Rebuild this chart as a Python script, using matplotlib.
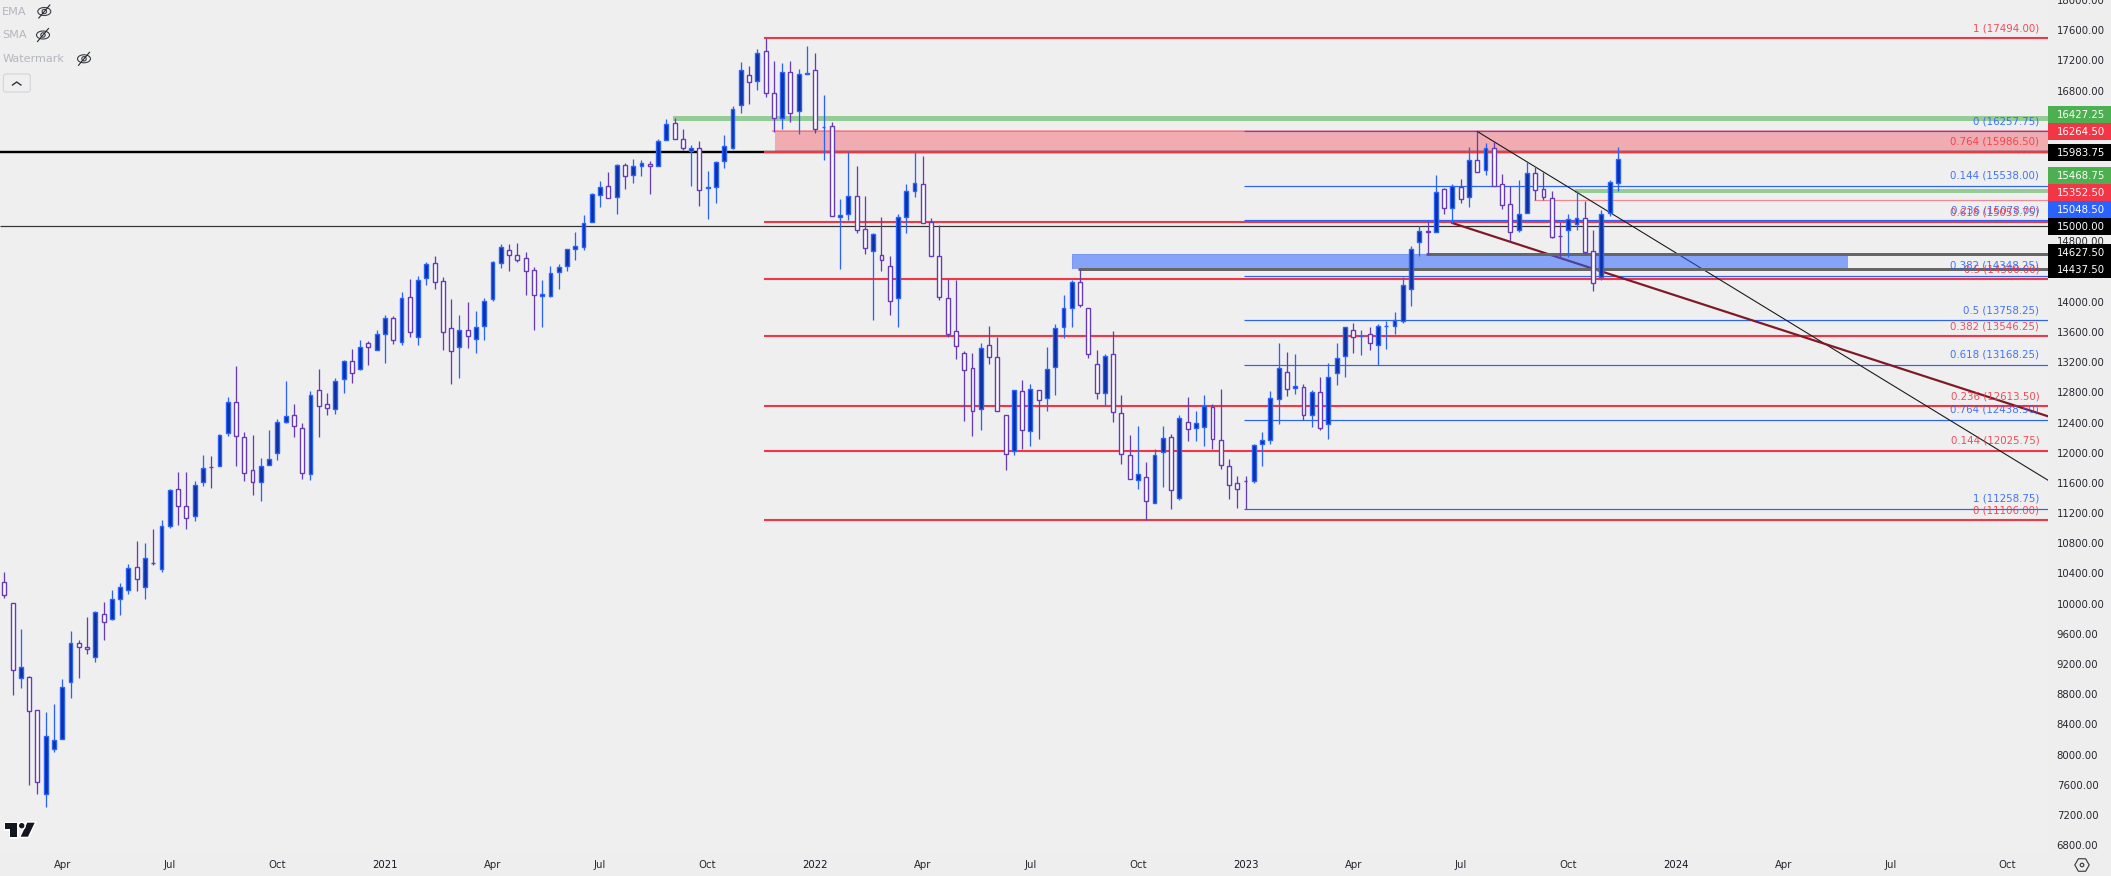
import matplotlib
matplotlib.use("Agg")
import matplotlib.pyplot as plt
from matplotlib.patches import Rectangle, Ellipse, Circle, Polygon, RegularPolygon, FancyBboxPatch
import matplotlib.patheffects as pe
import numpy as np

plt.rcParams['font.family'] = ['DejaVu Sans']

# ---------- candle data (weekly bars) ----------
highs = [10417,10015,9662,9039,8585,8563,8669,8995,9635,9516,
 9821,9909,10020,10178,10271,10523,10827,10801,10986,11106,
 11525,11741,11741,11622,11967,11953,12253,12735,13145,12271,
 12231,11927,12298,12443,12947,12642,12390,12814,13106,12788,
 12995,13234,13371,13490,13477,13622,13821,13808,14125,14298,
 14337,14523,14602,14324,14033,13821,13993,13874,14046,14545,
 14761,14761,14774,14655,14457,14284,14470,14496,14704,14920,
 15145,15446,15596,15715,15830,15843,15887,15874,15861,16161,
 16417,16430,16284,16072,16125,15728,15869,16205,16589,17172,
 17119,17357,17494,17185,17159,17185,17079,17384,17291,16735,
 16377,15357,15980,15794,15397,14916,15119,14602,15167,15565,
 15989,15927,15106,15022,14306,14284,13353,13318,13450,13675,
 13529,12505,12836,12960,12907,12836,13397,13702,14086,14284,
 14439,13922,13357,13313,13609,12761,12231,12351,11874,12046,
 12351,12245,12496,12735,12549,12761,12642,12841,11913,11688,
 11688,12121,12271,12814,13450,13331,13304,12916,12836,13000,
 13185,13450,13671,13715,13622,13662,13702,13741,13861,14324,
 14735,15000,15066,15675,15512,15565,15622,16046,16258,16099,
 16125,15688,15529,15609,15847,15785,15724,15463,15061,15159,
 15468,15331,14947,15220,15609,16046]
body_tops = [10293,10015,9154,9022,8585,8240,8187,8889,9472,9472,
 9432,9883,9869,10068,10227,10479,10492,10611,10545,11035,
 11512,11525,11300,11578,11803,11816,12240,12677,12677,12214,
 11777,11830,11922,12412,12492,12505,12333,12770,12836,12651,
 12956,13220,13220,13406,13459,13578,13790,13790,14055,14068,
 14293,14505,14518,14280,13657,13631,13631,13671,14015,14532,
 14730,14691,14624,14585,14426,14108,14386,14465,14704,14744,
 15048,15432,15525,15538,15816,15816,15803,15843,15830,16134,
 16359,16373,16161,16037,16042,15525,15856,16068,16558,17075,
 17008,17300,17326,16770,17048,17048,17022,17035,17075,16320,
 16333,15154,15406,15406,14969,14902,14624,14479,15128,15472,
 15578,15565,15061,14611,14055,13618,13326,13128,13393,13432,
 13273,12505,12836,12823,12850,12836,13114,13657,13922,14267,
 14267,13922,13181,13287,13313,12532,11975,11724,11684,11975,
 12201,12214,12465,12412,12399,12624,12611,12174,11830,11605,
 11631,12108,12174,12730,13128,13075,12889,12876,12810,12810,
 13009,13260,13671,13631,13552,13578,13684,13684,13763,14227,
 14704,14942,14933,15459,15499,15529,15525,15883,15883,16042,
 16042,15565,15300,15167,15710,15710,15499,15379,14872,15101,
 15114,15114,14677,15167,15591,15896]
body_bottoms = [10108,9114,9008,8571,7631,7472,8068,8201,8964,9432,
 9393,9287,9763,9803,10068,10187,10320,10214,10541,10465,
 11035,11300,11141,11168,11618,11812,11830,12267,12227,11737,
 11618,11618,11843,12002,12412,12359,11737,11724,12624,12598,
 12585,12982,13061,13114,13401,13366,13578,13499,13472,13604,
 13538,14320,14267,13604,13353,13406,13552,13512,13684,14042,
 14518,14624,14558,14412,14095,14081,14081,14399,14479,14704,
 14730,15061,15419,15379,15393,15671,15684,15803,15803,15803,
 16148,16161,16042,16002,15485,15512,15525,15869,16042,16611,
 16916,16929,16770,16439,16439,16505,16532,17022,16293,16315,
 15141,15128,15167,14955,14717,14677,14558,14015,14055,15128,
 15472,15048,14611,14068,13578,13419,13101,12558,12585,13273,
 12558,11989,12028,12306,12293,12704,12730,13141,13671,13922,
 13962,13313,12797,12797,12545,11989,11658,11644,11366,11340,
 12015,11512,11406,12320,12333,12346,12187,11843,11578,11525,
 11627,11631,12121,12174,12717,12850,12863,12505,12505,12333,
 12386,13061,13287,13538,13547,13459,13432,13680,13684,13750,
 14174,14797,14929,14929,15247,15247,15366,15393,15724,15750,
 15538,15287,14929,14955,15181,15485,15393,14863,14867,14955,
 15035,14664,14254,14333,15176,15578]
lows = [10077,8792,8880,7600,7481,7309,8037,8201,8752,9017,
 9331,9229,9521,9781,9847,10125,10165,10059,10514,10417,
 11000,11039,10986,11092,11556,11529,11830,12218,11821,11622,
 11437,11357,11843,11900,12390,12205,11649,11635,12209,12496,
 12510,12788,12920,13092,13159,13366,13185,13437,13423,13529,
 13423,14218,14165,13357,12907,12986,13384,13318,13490,14006,
 14443,14404,14523,14086,13622,13662,14059,14165,14404,14549,
 14682,15061,15251,15379,15159,15490,15569,15662,15423,15803,
 16148,16161,16006,15529,15265,15092,15304,15768,16019,16496,
 16616,16801,16708,16253,16284,16377,16218,17022,16231,15874,
 15141,14430,15079,14907,14629,13755,14408,13821,13662,14907,
 15384,15048,14611,14019,13534,13238,12417,12218,12298,13172,
 12558,11768,11967,12046,12086,12178,12549,12761,13516,13662,
 13927,13251,12708,12620,12404,11847,11658,11516,11115,11340,
 11547,11251,11370,12152,12152,12086,12046,11781,11384,11265,
 11260,11596,11821,12112,12377,12748,12774,12439,12337,12298,
 12178,12894,13000,13318,13291,13357,13167,13370,13569,13715,
 13940,14611,14624,14929,15159,15044,15304,15251,15724,15675,
 15538,15225,14801,14920,15181,15353,15353,14841,14593,14593,
 14947,14638,14143,14293,15132,15468]
directions = ("DDUDDUUUUD" "DUDUUUDUDU" "UDDUUDUUDD" "DUUUUDDUDD" "UUDUDUUDUD"
              "UUDDDUDUUU" "UDDDDUUUUU" "UUUDUDUUDU" "UDDUDUUUUU" "DUDDUDUUDU"
              "DUUDDUDDUU" "UDDDDDDDUD" "DDUDUDUUUU" "DDDUDDDUDU" "UDUDUUDDDD"
              "DUUUUDUDUD" "UUUDUDUUUU" "UUDUDUDUDU" "DDDUUDDDDU" "UDDUUU")
assert len(highs) == len(body_tops) == len(body_bottoms) == len(lows) == len(directions) == 196

# ---------- drawn levels ----------
red_fib_levels = [1, 0.764, 0.618, 0.5, 0.382, 0.236, 0.144, 0]
red_fib_prices = [17494.00, 15986.50, 15053.75, 14300.00, 13546.25, 12613.50, 12025.75, 11106.00]
blue_fib_levels = [0, 0.144, 0.236, 0.382, 0.5, 0.618, 0.764, 1]
blue_fib_prices = [16257.75, 15538.00, 15078.00, 14348.25, 13758.25, 13168.25, 12438.50, 11258.75]
black_thick_price = 15983.75
round_level = 15000.00
green_price_1, green_price_2 = 16427.25, 15468.75
red_zone = (15983.75, 16264.50)
pink_price = 15352.50
blue_zone = (14437.50, 14627.50)
trend_black_x, trend_black_y = [178, 246.97], [16258, 11636]
trend_maroon_x, trend_maroon_y = [175, 246.97], [15044, 12483]

x_tick_pos = [7,20,33,46,59,72,85,98,111,124,137,150,163,176,189,202,215,228,242]
x_tick_lab = ["Apr","Jul","Oct","2021","Apr","Jul","Oct","2022","Apr","Jul","Oct","2023",
              "Apr","Jul","Oct","2024","Apr","Jul","Oct"]
y_ticks = list(range(6800, 18001, 400))

tag_values = ["16427.25","16264.50","15983.75","15468.75","15352.50","15048.50","15000.00","14627.50","14437.50"]
tag_colors = ["#4CAF50","#F23645","#000000","#4CAF50","#F23645","#2962FF","#000000","#000000","#000000"]
tag_tops   = [106, 123, 144, 167, 184, 201, 218, 244, 261]

# ---------- palette ----------
BG = "#EFEFEF"; RED = "#F23645"; BLUE = "#2962FF"; GREEN = "#4CAF50"
UP_FILL = "#0D2F9C"; DOWN_EDGE = "#673AB7"; TXT = "#24272E"
W, H = 2111, 876
PW, PH = 2048, 850
px = 72 / 100.0  # one pixel in points

fig = plt.figure(figsize=(W/100, H/100), dpi=100, facecolor="#EEEEEE")
ax = fig.add_axes([0, (H-PH)/H, PW/W, PH/H], facecolor=BG)
ax.set_xlim((0-4.3)/8.275, (PW-4.3)/8.275)
ax.set_ylim(17494-13.245*(PH-37.7), 17494+13.245*37.7)
for s in ax.spines.values():
    s.set_visible(False)
xmax = ax.get_xlim()[1]; xmin = ax.get_xlim()[0]

# zones and levels behind the candles
ax.hlines(round_level, xmin, xmax, color="#333333", lw=1.2*px, zorder=1.5)
ax.hlines(black_thick_price, xmin, xmax, color="black", lw=2.4*px, zorder=1.6)
ax.fill_between([93.1, xmax], *red_zone, color=RED, alpha=0.36, lw=0, zorder=1.2)
ax.hlines(red_zone[1], 92.8, xmax, color=RED, alpha=0.42, lw=2*px, zorder=1.3)
ax.fill_between([80.8, xmax], green_price_1-30, green_price_1+30, color=GREEN, alpha=0.55, lw=0, zorder=1.2)
ax.fill_between([189.8, xmax], green_price_2-30, green_price_2+30, color=GREEN, alpha=0.55, lw=0, zorder=1.2)
ax.hlines(pink_price, 184.8, xmax, color=RED, alpha=0.55, lw=1.2*px, zorder=1.3)

ax.hlines(red_fib_prices, 91.8, xmax, color=RED, lw=2.1*px, zorder=2)
ax.hlines(blue_fib_prices, 149.85, xmax, color=BLUE, lw=1.2*px, zorder=2.1)
ax.plot(trend_black_x, trend_black_y, color="#1a1a1a", lw=1.1*px, zorder=2.2)
ax.plot(trend_maroon_x, trend_maroon_y, color="#7E1A26", lw=2.2*px, zorder=2.2)
# blue supply zone lies over the maroon trendline
ax.fill_between([129.0, 222.8], *blue_zone, color=BLUE, alpha=0.53, lw=0, zorder=2.3)
ax.hlines(blue_zone[1], 129.0, 171.8, color="#D8D8E4", lw=1.2*px, zorder=2.25)
ax.vlines(129.0, *blue_zone, color="#D8D8E4", lw=1.2*px, zorder=2.25)
ax.hlines(blue_zone[1], 171.8, xmax, color="#666666", lw=3*px, zorder=2.4)
ax.hlines(blue_zone[0], 129.7, xmax, color="#666666", lw=3*px, zorder=2.4)

# candles
idx = np.arange(len(highs))
h, t, b, l = map(np.array, (highs, body_tops, body_bottoms, lows))
up = np.array([d == "U" for d in directions])
ax.vlines(idx[up], l[up], h[up], color=BLUE, lw=1.3*px, zorder=3)
ax.vlines(idx[~up], l[~up], h[~up], color=DOWN_EDGE, lw=1.3*px, zorder=3)
ax.bar(idx[up], (t-b)[up], bottom=b[up], width=0.47, color=UP_FILL, edgecolor=BLUE, linewidth=1.4*px, zorder=3.1)
ax.bar(idx[~up], (t-b)[~up], bottom=b[~up], width=0.47, color="white", edgecolor=DOWN_EDGE, linewidth=1.4*px, zorder=3.1)

# fib labels
def fib_label(lev, price, col):
    ax.annotate(f"{lev:g} ({price:.2f})", xy=(1, price), xycoords=("axes fraction", "data"),
                xytext=(-8.7*px, 10*px), textcoords="offset points", ha="right", va="center",
                color=col, alpha=0.88, fontsize=7.35, zorder=4, annotation_clip=False)
for lev, p in zip(blue_fib_levels, blue_fib_prices):
    fib_label(lev, p, BLUE)
for lev, p in zip(red_fib_levels, red_fib_prices):
    fib_label(lev, p, RED)

# axes ticks
ax.yaxis.tick_right()
ax.set_yticks(y_ticks)
ax.set_yticklabels([f"{v:.2f}" for v in y_ticks], fontsize=7.25, color=TXT)
ax.set_xticks(x_tick_pos)
ax.set_xticklabels(x_tick_lab, fontsize=7.25, color=TXT)
for lab, txt in zip(ax.get_xticklabels(), x_tick_lab):
    if txt.isdigit():
        lab.set_color("#131722")
ax.tick_params(axis="both", length=0)
ax.tick_params(axis="y", pad=8.7*px)
ax.tick_params(axis="x", pad=9.5*px)

# ---------- chrome overlay in pixels ----------
ov = fig.add_axes([0, 0, 1, 1], zorder=5)
ov.set_xlim(0, W); ov.set_ylim(H, 0); ov.axis("off"); ov.patch.set_alpha(0)

for val, col, top in zip(tag_values, tag_colors, tag_tops):
    ov.add_patch(Rectangle((2048, top), 62.5, 16.6, fc=col, ec="none"))
    ov.text(2056.5, top+8.6, val, color="white", fontsize=7.25, ha="left", va="center", weight="normal")

# legend
def eye(cx, cy):
    ov.add_patch(Ellipse((cx, cy), 13, 8, fc="none", ec="#3a3d46", lw=0.8))
    ov.add_patch(Circle((cx, cy), 2.2, fc="none", ec="#3a3d46", lw=0.8))
    ov.plot([cx-5.5, cx+5.5], [cy+6.5, cy-6.5], color="#24262c", lw=0.8)
for name, ty, ex in (("EMA", 11.7, 44.3), ("SMA", 35.2, 43), ("Watermark", 59, 84)):
    ov.text(2.3, ty, name, color="#B4B6BF", fontsize=8.1, ha="left", va="center")
    eye(ex, ty-0.2)
ov.add_patch(FancyBboxPatch((3.3, 74), 27, 18, boxstyle="round,pad=0,rounding_size=2.5",
                            fc=BG, ec="#D2D4DA", lw=0.8))
ov.plot([12.5, 16.7, 20.9], [85, 82, 85], color="#333333", lw=1.0)

# TradingView logo
stroke = [pe.withStroke(linewidth=2.2, foreground="white")]
for shape in (Polygon([(4.7,822.7),(16.7,822.7),(16.7,836.7),(10,836.7),(10,829.3),(4.7,829.3)]),
              Polygon([(34.7,822.7),(28,836.7),(20.7,836.7),(27.3,822.7)]),
              Circle((21.7,825.7), 2.7)):
    shape.set_facecolor("#131722"); shape.set_edgecolor("none")
    shape.set_path_effects(stroke)
    ov.add_patch(shape)

# settings hexagon
ov.add_patch(RegularPolygon((2082, 865), 6, radius=7.2, orientation=np.pi/6, fc="none", ec="#333333", lw=0.8))
ov.add_patch(Circle((2082, 865), 1.8, fc="none", ec="#333333", lw=0.8))

fig.savefig("out.png", dpi=100, facecolor=fig.get_facecolor())
